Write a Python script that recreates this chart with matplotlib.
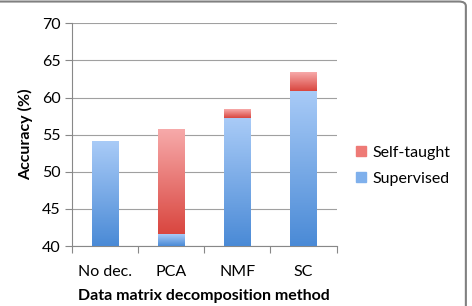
import matplotlib.pyplot as plt
import numpy as np
from matplotlib.colors import LinearSegmentedColormap
from matplotlib.patches import FancyBboxPatch

plt.rcParams['font.family'] = ['Lato', 'DejaVu Sans']

methods = ["No dec.", "PCA", "NMF", "SC"]
supervised = [54.1, 41.6, 57.2, 60.9]
self_taught = [0.0, 14.1, 1.2, 2.5]

fig = plt.figure(figsize=(4.72, 3.06), dpi=100)
ax = fig.add_axes([0.152, 0.196, 0.561, 0.728])

x = np.arange(len(methods))
base = 40
sup_h = [v - base for v in supervised]
bars_sup = ax.bar(x, sup_h, 0.4, bottom=base, color="#7fb0ec", label="Supervised", zorder=2)
bars_st = ax.bar(x, self_taught, 0.4, bottom=supervised, color="#ee7a76", label="Self-taught", zorder=2)

blue = LinearSegmentedColormap.from_list("b", ["#4a8ad6", "#a9cbf7"])
red = LinearSegmentedColormap.from_list("r", ["#d9463f", "#f7aaaa"])
grad = np.linspace(0, 1, 256).reshape(-1, 1)

# gradient fill per bar segment, like the spreadsheet style
for bars, cmap in [(bars_sup, blue), (bars_st, red)]:
    for p in bars:
        if p.get_height() <= 0:
            continue
        x0, y0 = p.get_x(), p.get_y()
        im = ax.imshow(grad, cmap=cmap, origin="lower", aspect="auto",
                       extent=[x0, x0 + p.get_width(), y0, y0 + p.get_height()], zorder=3)
        im.set_clip_path(p)
        p.set_alpha(0)

fs = 11.5
ax.set_xlim(-0.5, 3.5)
ax.set_ylim(40, 70)
ax.set_yticks(range(40, 71, 5))
ax.set_xticks(x)
ax.set_xticklabels(methods)
ax.set_xticks(np.arange(-0.5, 4, 1), minor=True)
ax.tick_params(axis="x", which="major", length=0, pad=14, labelsize=fs)
ax.tick_params(axis="x", which="minor", length=5, color="#888888", width=0.8)
ax.tick_params(axis="y", length=5, color="#888888", width=0.8, labelsize=fs, pad=3)
ax.grid(axis="y", color="#a0a0a0", linewidth=0.8, zorder=0)
ax.set_axisbelow(True)
for s in ["top", "right"]:
    ax.spines[s].set_visible(False)
for s in ["left", "bottom"]:
    ax.spines[s].set_color("#888888")
    ax.spines[s].set_linewidth(0.8)

ax.set_ylabel("Accuracy (%)", fontsize=fs, fontweight="bold", labelpad=6)
ax.set_xlabel("Data matrix decomposition method", fontsize=fs, fontweight="bold", labelpad=7)

handles, labels = ax.get_legend_handles_labels()
leg = ax.legend(handles[::-1], labels[::-1], loc="center left", bbox_to_anchor=(1.02, 0.36),
                frameon=False, fontsize=fs, handlelength=0.6, handleheight=0.6,
                handletextpad=0.4, labelspacing=0.75)
for h, c in zip(leg.legend_handles, ["#ee7a76", "#7fb0ec"]):
    h.set_alpha(1)
    h.set_color(c)

# rounded frame around the chart
frame = FancyBboxPatch((-0.05, -0.05), 1.037, 1.045, boxstyle="round,pad=0,rounding_size=0.015",
                       transform=fig.transFigure, fill=False, edgecolor="#808080", linewidth=1.5)
fig.patches.append(frame)

fig.savefig("out.png", dpi=100)
